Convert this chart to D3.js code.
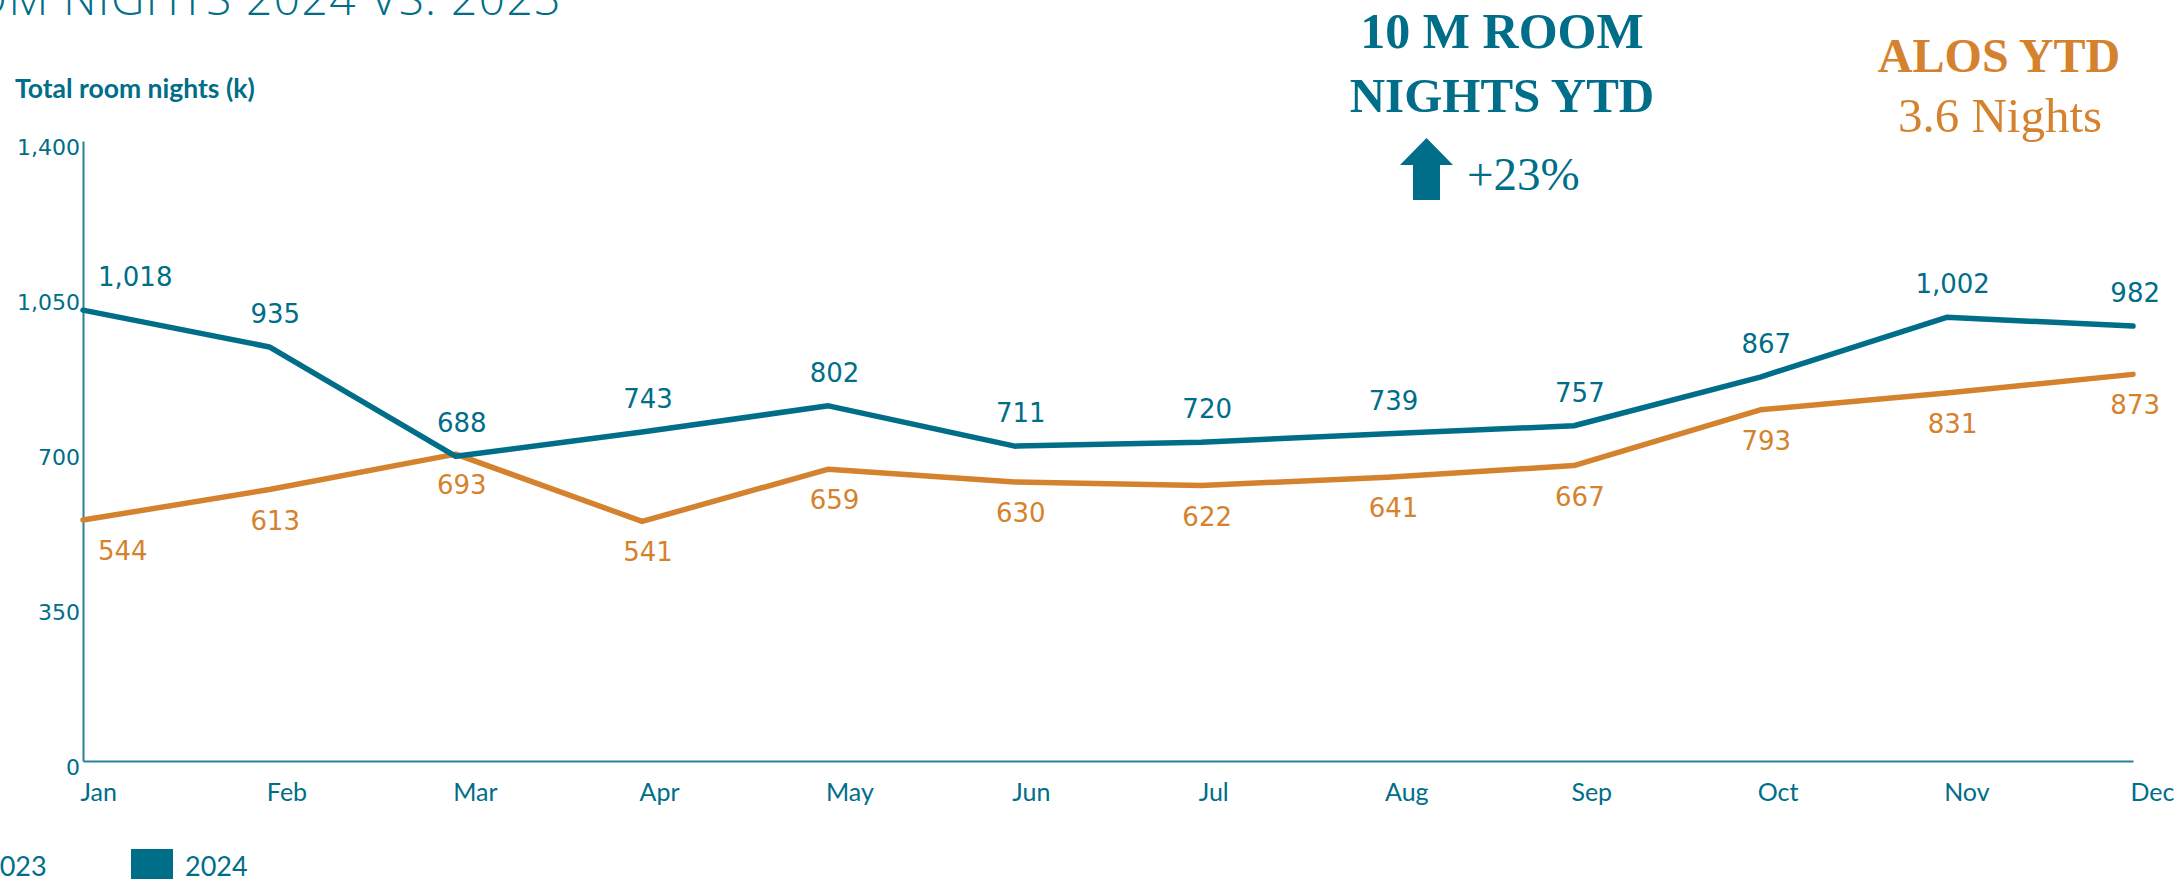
<!DOCTYPE html>
<html lang="en">
<head>
    <meta charset="UTF-8">
    <title>Room nights 2024 vs. 2023</title>
    <script src="https://cdn.jsdelivr.net/npm/d3@7"></script>
    <style>
        body {
            margin: 0;
            padding: 0;
            background-color: #ffffff;
            overflow: hidden;
        }
    </style>
</head>
<body>
<div id="chart"></div>
<script>
    // Data (thousands of room nights)
    const months = ["Jan", "Feb", "Mar", "Apr", "May", "Jun", "Jul", "Aug", "Sep", "Oct", "Nov", "Dec"];
    const nights2023 = [544, 613, 693, 541, 659, 630, 622, 641, 667, 793, 831, 873];
    const nights2024 = [1018, 935, 688, 743, 802, 711, 720, 739, 757, 867, 1002, 982];
    const yTicks = [0, 350, 700, 1050, 1400];
    const seriesNames = ["2023", "2024"];

    const teal = "#006e89";
    const orange = "#d5822e";
    const axisColor = "#2a8099";

    const width = 2174;
    const height = 879;

    const x = d3.scalePoint().domain(months).range([83, 2133]);
    const y = d3.scaleLinear().domain([0, 1400]).range([761, 141]);

    const svg = d3.select("#chart").append("svg")
        .attr("width", width)
        .attr("height", height)
        .attr("viewBox", [0, 0, width, height]);

    // Title, cut off at the left edge like the original slide
    svg.append("text")
        .attr("x", 562)
        .attr("y", 15)
        .attr("text-anchor", "end")
        .attr("fill", teal)
        .attr("font-family", "'Open Sans', sans-serif")
        .attr("font-weight", 300)
        .attr("font-size", 46)
        .attr("letter-spacing", 1.5)
        .text("ROOM NIGHTS 2024 VS. 2023");

    svg.append("text")
        .attr("x", 15)
        .attr("y", 98)
        .attr("fill", teal)
        .attr("font-family", "Lato, sans-serif")
        .attr("font-weight", 700)
        .attr("font-size", 26.5)
        .text("Total room nights (k)");

    // Axes
    const yAxis = svg.append("g")
        .attr("transform", `translate(${x("Jan")},0)`)
        .call(d3.axisLeft(y).tickValues(yTicks).tickFormat(d3.format(",")).tickSize(0).tickPadding(3));
    yAxis.select(".domain").attr("stroke", axisColor).attr("stroke-width", 2);
    yAxis.selectAll("text")
        .attr("dy", "0.6em")
        .attr("fill", teal)
        .attr("font-family", "'DejaVu Sans', sans-serif")
        .attr("font-size", 22);

    const xAxis = svg.append("g")
        .attr("transform", `translate(0,${y(0)})`)
        .call(d3.axisBottom(x).tickSize(0).tickPadding(22));
    xAxis.select(".domain").attr("stroke", axisColor).attr("stroke-width", 2);
    xAxis.selectAll("text")
        .attr("text-anchor", "start")
        .attr("dx", -3)
        .attr("fill", teal)
        .attr("font-family", "Lato, sans-serif")
        .attr("font-size", 25);

    // Lines
    const line = d3.line()
        .x((d, i) => x(months[i]))
        .y(d => y(d));

    svg.append("path")
        .datum(nights2023)
        .attr("fill", "none")
        .attr("stroke", orange)
        .attr("stroke-width", 5.5)
        .attr("stroke-linejoin", "round")
        .attr("stroke-linecap", "round")
        .attr("d", line);

    svg.append("path")
        .datum(nights2024)
        .attr("fill", "none")
        .attr("stroke", teal)
        .attr("stroke-width", 5.5)
        .attr("stroke-linejoin", "round")
        .attr("stroke-linecap", "round")
        .attr("d", line);

    // Value labels: 2024 above the line, 2023 below
    function labels(values, color, offset) {
        svg.append("g")
            .attr("fill", color)
            .attr("font-family", "'DejaVu Sans', sans-serif")
            .attr("font-size", 26)
            .attr("text-anchor", "middle")
            .selectAll("text")
            .data(values)
            .join("text")
            .attr("y", d => y(d) + offset)
            .text(d => d3.format(",")(d))
            .each(function(d, i) {
                const w = this.getComputedTextLength();
                let cx = x(months[i]) + 6;
                cx = Math.max(cx, x("Jan") + 15 + w / 2);
                cx = Math.min(cx, width - 14 - w / 2);
                d3.select(this).attr("x", cx);
            });
    }
    labels(nights2024, teal, -24);
    labels(nights2023, orange, 40);

    // KPI boxes on the right
    const kpi = svg.append("g").attr("font-family", "'Liberation Serif', serif").attr("text-anchor", "middle");
    kpi.append("text").attr("x", 1502).attr("y", 48).attr("fill", teal)
        .attr("font-weight", 700).attr("font-size", 50).text("10 M ROOM");
    kpi.append("text").attr("x", 1502).attr("y", 112).attr("fill", teal)
        .attr("font-weight", 700).attr("font-size", 49).text("NIGHTS YTD");
    kpi.append("path")
        .attr("fill", teal)
        .attr("d", "M1426.5,138 L1453,165 L1440,165 L1440,200 L1413,200 L1413,165 L1400,165 Z");
    kpi.append("text").attr("x", 1467).attr("y", 190).attr("fill", teal)
        .attr("text-anchor", "start").attr("font-size", 47).text("+23%");

    kpi.append("text").attr("x", 1999).attr("y", 72).attr("fill", orange)
        .attr("font-weight", 700).attr("font-size", 48).text("ALOS YTD");
    kpi.append("text").attr("x", 2000).attr("y", 132).attr("fill", orange)
        .attr("font-size", 49).text("3.6 Nights");

    // Legend, partly off the left edge
    const legend = svg.append("g")
        .selectAll("g")
        .data(seriesNames)
        .join("g")
        .attr("transform", (d, i) => `translate(${-70 + i * 201},849)`);
    legend.append("rect")
        .attr("width", 42)
        .attr("height", 42)
        .attr("fill", (d, i) => i === 0 ? orange : teal);
    legend.append("text")
        .attr("x", 54)
        .attr("y", 27)
        .attr("fill", teal)
        .attr("font-family", "Lato, sans-serif")
        .attr("font-size", 27)
        .text(d => d);
</script>
</body>
</html>
